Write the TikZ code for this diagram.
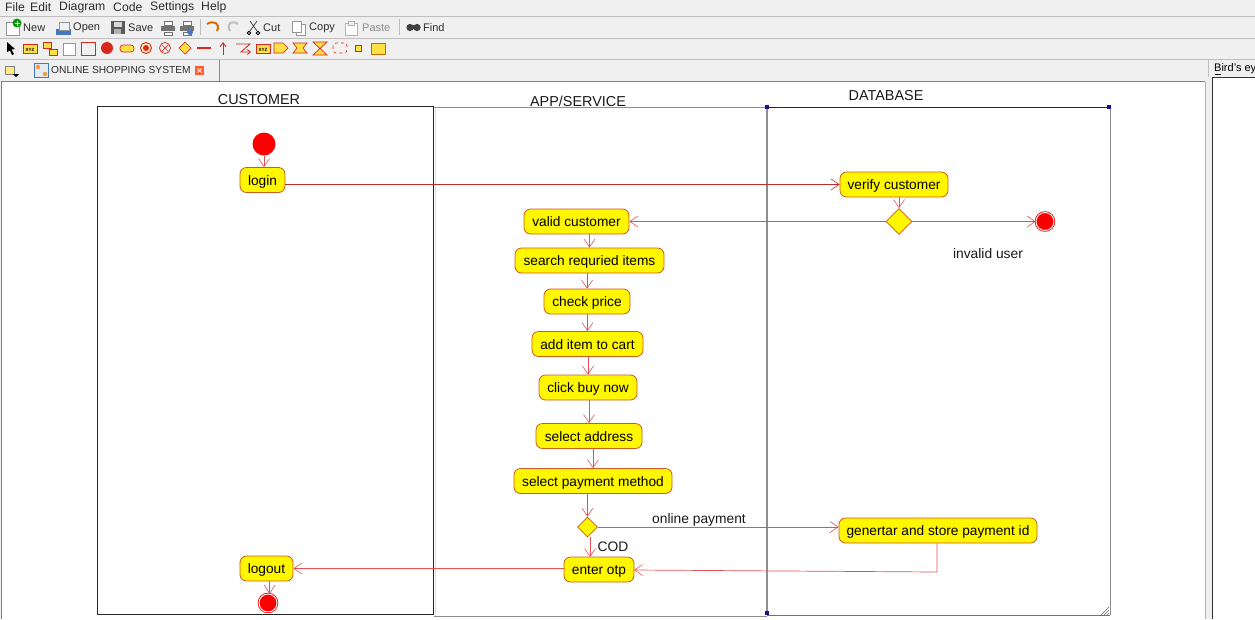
\documentclass[tikz,border=0pt]{standalone}
\usepackage{fontspec}
\setmainfont{Liberation Sans}
\usetikzlibrary{arrows.meta,shapes.geometric,calc}
\definecolor{uibg}{RGB}{240,240,240}
\definecolor{uiline}{RGB}{190,190,190}
\definecolor{flow}{RGB}{230,80,85}
\definecolor{flowdark}{RGB}{190,45,45}
\definecolor{nodeedge}{RGB}{205,90,30}
\definecolor{nodefill}{RGB}{255,247,0}
\definecolor{dotred}{RGB}{250,0,0}
\definecolor{lanegray}{RGB}{140,140,145}
\definecolor{handle}{RGB}{20,20,140}
\definecolor{uitext}{RGB}{45,45,45}
\definecolor{iconred}{RGB}{215,40,30}
\definecolor{iconyel}{RGB}{255,225,70}
\definecolor{icongray}{RGB}{150,150,150}
\definecolor{iconblue}{RGB}{70,120,190}
\tikzset{
 x=1pt,y=-1pt,
 act/.style={draw=nodeedge,fill=nodefill,rounded corners=6.5pt,line width=.8pt,inner sep=0pt,text height=10pt,text depth=0pt,font=\fontsize{13.7}{15}\selectfont},
 dec/.style={draw=nodeedge,fill=nodefill,line width=.8pt,diamond,inner sep=0pt,aspect=1},
 startdot/.style={circle,fill=dotred,inner sep=0pt,minimum size=23pt},
 enddot/.style={circle,fill=dotred,draw=dotred,line width=.8pt,double=white,double distance=.9pt,inner sep=0pt,minimum size=18pt},
 flowline/.style={draw=flow,line width=.7pt,-{Straight Barb[length=8pt,width=11pt,line width=.6pt]}},
 lab/.style={inner sep=0pt,font=\fontsize{13.8}{15}\selectfont,text=black!90},
 lanelab/.style={inner sep=0pt,font=\fontsize{14.4}{16}\selectfont,text=black!90},
 menu/.style={inner sep=0pt,anchor=west,font=\fontsize{12.2}{14}\selectfont,text=uitext},
 tool/.style={inner sep=0pt,anchor=west,font=\fontsize{11}{13}\selectfont,text=uitext},
 tooloff/.style={tool,text=black!45},
 iconr/.style={draw=iconred,line width=.9pt},
 icony/.style={draw=iconred,fill=iconyel,line width=.7pt},
 icong/.style={draw=icongray,fill=white,line width=.7pt},
 sep/.style={draw=uiline,line width=.8pt},
}
\begin{document}
\begin{tikzpicture}
\useasboundingbox (0,0) rectangle (1255,619);
\fill[uibg] (0,0) rectangle (1255,619);
% --- window chrome
\draw[sep] (0,16) -- (1255,16);
\draw[sep] (0,38) -- (1255,38);
\draw[sep] (0,59.5) -- (1255,59.5);
\draw[sep] (1208,60) -- (1208,77);
\fill[white] (2,82) rectangle (1205,619);
\draw[draw=black!50,line width=.8pt] (1,619) -- (1,81.5) -- (1205,81.5);
\draw[draw=black!30,line width=.8pt] (1205.5,81.5) -- (1205.5,619);
\fill[white] (1212.5,77) rectangle (1255,619);
\draw[draw=black!80,line width=.8pt] (1212,619) -- (1212,77) -- (1255,77);
\node[menu,font=\fontsize{11}{13}\selectfont,text=black] (birds) at (1214,68.5) {Bird's ey};
\draw[black,line width=.5pt] (1214.5,74.5) -- (1221,74.5);
% --- menu bar
\node[menu] (mfile) at (5,7.5) {File};
\node[menu] (medit) at (30,7.5) {Edit};
\node[menu] (mdiag) at (59,7.5) {Diagram};
\node[menu] (mcode) at (113,7.5) {Code};
\node[menu] (msett) at (150,7.5) {Settings};
\node[menu] (mhelp) at (201,7.5) {Help};
% --- main toolbar
\draw[icong] (6,22) rectangle (19,35);
\fill[green!60!black] (17,23) circle (4.5pt);
\draw[white,line width=1pt] (14.5,23) -- (19.5,23) (17,20.5) -- (17,25.5);
\node[tool] (tnew) at (23,28) {New};
\fill[iconblue] (56,29) rectangle (71,35);
\draw[icong,fill=white!90!iconblue] (59,22) rectangle (69,30);
\node[tool] (topen) at (73,28) {Open};
\fill[black!65] (111,21) rectangle (125,34);
\fill[white!85!black] (114,22) rectangle (122,27);
\fill[white!70!black] (114,29) rectangle (121,34);
\node[tool] (tsave) at (128,28) {Save};
\foreach \ix in {161,180}{
 \fill[black!55] (\ix,26) rectangle ++(14,5);
 \draw[black!55,fill=white,line width=.6pt] (\ix+3,21) rectangle ++(8,4);
 \draw[black!55,fill=white,line width=.6pt] (\ix+3,32) rectangle ++(8,3);
}
\fill[iconblue] (190,32) circle (3pt);
\draw[sep] (200,19) -- (200,35);
\draw[draw=orange!85!black,line width=2pt] (207,24) .. controls (213,20) and (221,23) .. (217,31);
\draw[draw=black!25,line width=2pt] (238,24) .. controls (232,20) and (226,23) .. (230,31);
\draw[black!70,line width=.8pt] (250,21) -- (257,31) (257,21) -- (250,31);
\draw[black,line width=.8pt] (249,33) circle (1.8pt) (258,33) circle (1.8pt);
\node[tool] (tcut) at (263,28) {Cut};
\draw[icong] (296,24) rectangle (305,35);
\draw[icong] (292,21) rectangle (301,32);
\node[tool] (tcopy) at (309,28) {Copy};
\draw[draw=black!30,fill=white,line width=.7pt] (345,23) rectangle (357,35);
\draw[draw=black!30,fill=uibg,line width=.7pt] (348,21) rectangle (354,25);
\node[tooloff] (tpaste) at (362,28) {Paste};
\draw[sep] (399,19) -- (399,35);
\fill[black!75] (410,27.5) circle (3.6pt) (417,27.5) circle (3.6pt) (411,25) rectangle (416,29);
\node[tool] (tfind) at (423,28) {Find};
% --- element toolbar
\fill[black] (7,42) -- (15,49) -- (11.5,49.5) -- (14,54) -- (12,55) -- (10,50.5) -- (7,52) -- cycle;
\draw[icony] (23,44) rectangle (37,53);
\node[inner sep=0pt,font=\fontsize{4.5}{5}\bfseries\selectfont] (ixyz) at (30,49.5) {XYZ};
\draw[icony] (43,42) rectangle (51,48);
\draw[icony] (49,49) rectangle (57,55);
\draw[icong] (63,43) rectangle (75,55);
\draw[iconr,line width=.8pt] (81.5,42.5) rectangle (95,55);
\fill[iconred] (107,48) circle (6pt);
\draw[icony,rounded corners=3pt] (120,45) rectangle (134,52);
\draw[iconr,fill=iconyel!40] (146,48) circle (5.5pt);
\fill[iconred] (146,48) circle (3pt);
\draw[iconr,line width=.7pt] (165,48) circle (5.5pt);
\draw[iconr,line width=.7pt] (161.5,44.5) -- (168.5,51.5) (168.5,44.5) -- (161.5,51.5);
\draw[icony] (185,42) -- (191,48) -- (185,54) -- (179,48) -- cycle;
\draw[iconred,line width=2pt] (197,48) -- (211,48);
\draw[iconred,line width=.9pt,-{Straight Barb[length=4pt,width=6pt]}] (223,55) -- (223,42);
\draw[iconred,line width=.9pt,-{Straight Barb[length=3pt,width=5pt]}] (236,44) -- (250,44) -- (241,52) -- (251,52);
\draw[icony] (256,44) rectangle (270,53);
\node[inner sep=0pt,font=\fontsize{4.5}{5}\bfseries\selectfont] (ixyzb) at (263,49.5) {XYZ};
\draw[icony] (274,43) -- (283,43) -- (288,48) -- (283,53) -- (274,53) -- cycle;
\draw[icony] (293,43) -- (307,43) -- (303,48) -- (307,53) -- (293,53) -- (297,48) -- cycle;
\draw[icony] (313,42) -- (327,42) -- (313,55) -- (327,55) -- cycle;
\draw[iconr,line width=.6pt,dashed,rounded corners=3pt] (333,43) rectangle (347,53);
\draw[icony] (355,45) rectangle (361,51);
\draw[draw=orange!80!black,fill=iconyel,line width=.7pt] (371,43) rectangle (385,54);
% --- tab row
\draw[draw=black!50,fill=iconyel!70,line width=.6pt] (5,66) rectangle (14,74);
\fill[black] (13,74) -- (19,74) -- (16,77) -- cycle;
\draw[draw=iconblue,fill=white!85!iconblue,line width=.8pt] (34,63) rectangle (48,77);
\fill[orange!80] (38,67) circle (2.2pt) (45,74) circle (2.2pt);
\node[tool,font=\fontsize{10.2}{13}\selectfont] (tabname) at (51,70) {ONLINE SHOPPING SYSTEM};
\fill[red!60!orange!80] (195,66) rectangle (204,75);
\draw[white,line width=.9pt] (197.5,68.5) -- (201.5,72.5) (201.5,68.5) -- (197.5,72.5);
\draw[draw=black!45,line width=.7pt] (219,60) -- (219,81);
% --- swimlanes
\draw[lanegray,line width=.9pt] (433,107) -- (767,107);
\draw[black!12,line width=.7pt] (435,109) -- (435,616);
\draw[lanegray,line width=1pt] (433.5,616) -- (767,616);
\draw[black!85,line width=.9pt] (97.5,106.5) rectangle (433,614.5);
\draw[lanegray,line width=1.3pt] (767,107) -- (767,615);
\draw[black!85,line width=.9pt] (767,107) -- (1110,107);
\draw[lanegray,line width=1pt] (1110,107) -- (1110,615);
\draw[black!55,line width=.9pt] (1110,615) -- (767,615);
\foreach \hx/\hy in {767/107,1109/107,767/613}{\fill[handle] (\hx-1.8,\hy-1.8) rectangle ++(3.6,3.6);}
\draw[black!60,line width=.5pt] (1109,607) -- (1101,615) (1109,610) -- (1104,615) (1109,613) -- (1107,615);
\node[lanelab] (lanea) at (259,100) {CUSTOMER};
\node[lanelab] (laneb) at (578,101) {APP/SERVICE};
\node[lanelab] (lanec) at (886,96) {DATABASE};
% --- activity nodes
\node[startdot] (start) at (264,144) {};
\node[act,minimum width=45pt,minimum height=25pt] (login) at (262.5,180) {login};
\node[act,minimum width=108pt,minimum height=25pt] (verify) at (894,184.5) {verify customer};
\node[dec,minimum size=26pt] (dia) at (899,221.5) {};
\node[enddot] (endinv) at (1045,221.5) {};
\node[act,minimum width=105pt,minimum height=25pt] (valid) at (576.5,221.5) {valid customer};
\node[act,minimum width=149pt,minimum height=25pt] (search) at (589.5,260.5) {search requried items};
\node[act,minimum width=86pt,minimum height=25pt] (price) at (587,301.5) {check price};
\node[act,minimum width=111pt,minimum height=25pt] (add) at (587.5,344) {add item to cart};
\node[act,minimum width=98pt,minimum height=25pt] (buy) at (588,387.5) {click buy now};
\node[act,minimum width=106pt,minimum height=25pt] (addr) at (589,436) {select address};
\node[act,minimum width=158pt,minimum height=25pt] (pay) at (593,481) {select payment method};
\node[dec,minimum size=20pt] (diapay) at (587.5,527) {};
\node[act,minimum width=198pt,minimum height=25pt] (gen) at (938,530.5) {genertar and store payment id};
\node[act,minimum width=70pt,minimum height=25pt] (otp) at (599,569.5) {enter otp};
\node[act,minimum width=53pt,minimum height=25pt] (logout) at (266.5,568.5) {logout};
\node[enddot] (endlog) at (268,603) {};
\node[lab] (invalid) at (988,253.5) {invalid user};
\node[lab] (online) at (699,519.5) {online payment};
\node[lab] (cod) at (613,546.5) {COD};
% --- free ends of the off-centre connectors
\coordinate (codend) at (590,557);
\coordinate (genturn) at (937,572);
\coordinate (otpin) at (634,570);
% --- connectors
\draw[flowline] (start.south) -- (login.north -| start.south);
\draw[flowline,draw=flowdark] (login.east |- verify.west) -- (verify.west);
\draw[flowline] (verify.south -| dia.north) -- (dia.north);
\draw[flowline] (dia.east) -- (endinv.west);
\draw[flowline] (dia.west) -- (valid.east);
\draw[flowline] (valid.south -| search.north) -- (search.north);
\draw[flowline] (search.south -| price.north) -- (price.north);
\draw[flowline] (price.south -| add.north) -- (add.north);
\draw[flowline] (add.south -| buy.north) -- (buy.north);
\draw[flowline] (buy.south -| addr.north) -- (addr.north);
\draw[flowline] (addr.south -| pay.north) -- (pay.north);
\draw[flowline] (pay.south -| diapay.north) -- (diapay.north);
\draw[flowline] (diapay.east) -- (gen.west |- diapay.east);
\draw[flowline] (diapay.south -| codend) -- (codend);
\draw[flowline] (gen.south -| genturn) -- (genturn) -- (otpin);
\draw[flowline] (otp.west |- logout.east) -- (logout.east);
\draw[flowline] (logout.south -| endlog.80) -- (endlog.80);
\end{tikzpicture}
\end{document}
